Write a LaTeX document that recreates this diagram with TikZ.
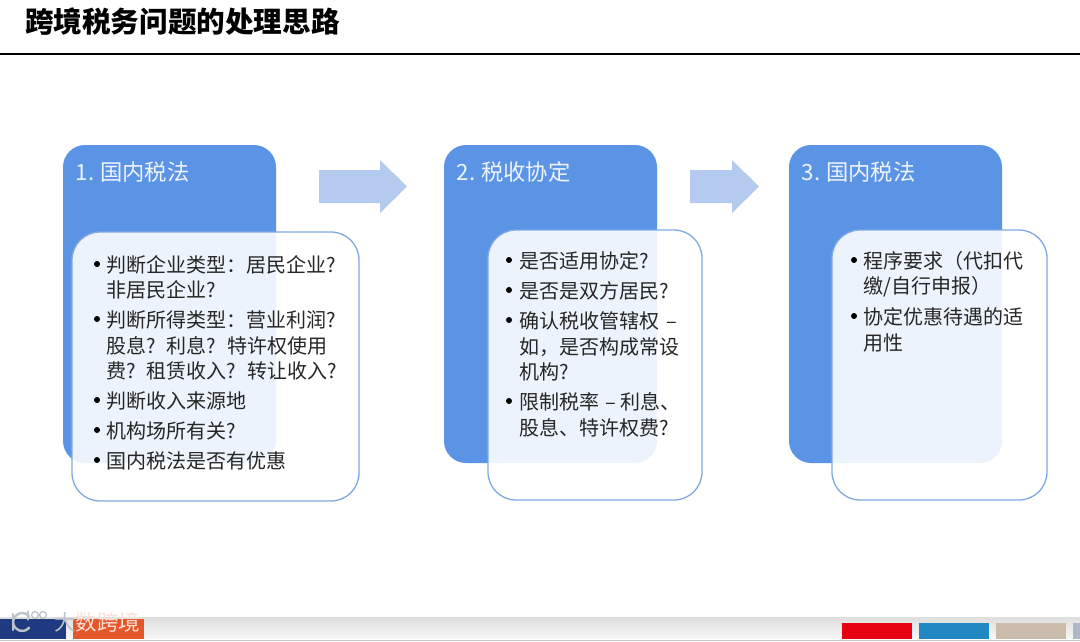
\documentclass[tikz,border=0pt]{standalone}
\usepackage{fontspec}
\setmainfont{Noto Sans CJK SC}
\definecolor{panelblue}{HTML}{5C94E5}
\definecolor{edgeblue}{HTML}{80A9E2}
\definecolor{arrowblue}{HTML}{B4CAEF}
\definecolor{bodyink}{HTML}{262626}
\definecolor{stripnavy}{HTML}{1F3A80}
\definecolor{striporange}{HTML}{E4572A}
\definecolor{stripred}{HTML}{E60012}
\definecolor{stripblue}{HTML}{2288C4}
\definecolor{striptan}{HTML}{CBBBAB}
\definecolor{stripgrey}{HTML}{AEB6C8}
\definecolor{markgrey}{HTML}{BEC3CB}
\tikzset{
  x=1pt,y=-1pt,
  backpanel/.style={fill=panelblue,rounded corners=22pt},
  frontpanel/.style={draw=edgeblue,line width=1.3pt,fill=white,fill opacity=.89,draw opacity=1,rounded corners=28pt},
  flowarrow/.style={fill=arrowblue},
  heading/.style={anchor=west,inner sep=0pt,text=white!90!panelblue,font=\fontsize{22.3}{24}\selectfont},
  body/.style={anchor=west,inner sep=0pt,text=bodyink,font=\fontsize{20}{24}\selectfont},
  dot/.style={circle,fill=black,inner sep=0pt,minimum size=6pt},
  strip/.style={inner sep=0pt,anchor=north west},
  logostroke/.style={draw=markgrey,line width=2.4pt,line cap=round},
}
\newcommand{\bandbox}[5]{\node[strip,fill=#5,minimum width=#3pt,minimum height=#4pt] at (#1,#2) {};}
\newcommand{\qgap}{\hspace{11pt}}
\begin{document}
\begin{tikzpicture}
\useasboundingbox (0,0) rectangle (1080,642);
\fill[white] (0,0) rectangle (1080,642);
% title
\node[anchor=west,inner sep=0pt,font=\fontsize{28.6}{32}\bfseries\selectfont,text=black] (title) at (25,22) {跨境税务问题的处理思路};
\coordinate (ruleL) at (0,54); \coordinate (ruleR) at (1080,54);
\draw[black,line width=1.3pt] (ruleL) -- (ruleR);
% back panels
\fill[backpanel] (63,145) rectangle (276,463);
\fill[backpanel] (444,145) rectangle (657,463);
\fill[backpanel] (789,145) rectangle (1002,463);
\node[heading] (h1) at (75.5,172) {1.\hspace{6pt}国内税法};
\node[heading] (h2) at (456.5,172) {2.\hspace{6pt}税收协定};
\node[heading] (h3) at (801.5,172) {3.\hspace{6pt}国内税法};
% front panels
\path[frontpanel] (72,232) rectangle (359,501);
\path[frontpanel] (488,230) rectangle (702,500);
\path[frontpanel] (832,230) rectangle (1047,500);
% arrows
\fill[flowarrow] (319,170) -- (380,170) -- (380,160) -- (407,186.5) -- (380,213) -- (380,203) -- (319,203) -- cycle;
\fill[flowarrow] (690,170) -- (732,170) -- (732,160) -- (759,186.5) -- (732,213) -- (732,203) -- (690,203) -- cycle;
% panel 1 text
\node[dot] (b11) at (97,264) {};
\node[body] (t11) at (106,265) {判断企业类型：居民企业?};
\node[body] (t12) at (106,290) {非居民企业?};
\node[dot] (b12) at (97,319) {};
\node[body] (t13) at (106,320) {判断所得类型：营业利润?};
\node[body] (t14) at (106,346) {股息?\qgap{}利息?\qgap{}特许权使用};
\node[body] (t15) at (106,371) {费?\qgap{}租赁收入?\qgap{}转让收入?};
\node[dot] (b13) at (97,400) {};
\node[body] (t16) at (106,401) {判断收入来源地};
\node[dot] (b14) at (97,430) {};
\node[body] (t17) at (106,431) {机构场所有关?};
\node[dot] (b15) at (97,460) {};
\node[body] (t18) at (106,461) {国内税法是否有优惠};
% panel 2 text
\node[dot] (b21) at (509,260) {};
\node[body] (t21) at (519,261) {是否适用协定?};
\node[dot] (b22) at (509,290) {};
\node[body] (t22) at (519,291) {是否是双方居民?};
\node[dot] (b23) at (509,320) {};
\node[body] (t23) at (519,321) {确认税收管辖权\hspace{7pt}–};
\node[body] (t24) at (519,347) {如，是否构成常设};
\node[body] (t25) at (519,372) {机构?};
\node[dot] (b24) at (509,401) {};
\node[body] (t26) at (519,402) {限制税率\hspace{6pt}–\hspace{5pt}利息、};
\node[body] (t27) at (519,428) {股息、特许权费?};
% panel 3 text
\node[dot] (b31) at (854,260) {};
\node[body] (t31) at (863,261) {程序要求（代扣代};
\node[body] (t32) at (863,287) {缴/自行申报）};
\node[dot] (b32) at (854,316) {};
\node[body] (t33) at (863,317) {协定优惠待遇的适};
\node[body] (t34) at (863,343) {用性};
% footer
\shade[top color=black!13,bottom color=black!3] (0,617) rectangle (1080,639);
\fill[white] (0,639) rectangle (1080,642);
\draw[black!22,line width=.6pt] (0,640) -- (1080,640);
\bandbox{0}{619}{66}{19.5}{stripnavy}
\bandbox{73}{619}{71}{19.5}{striporange}
\bandbox{842}{623}{69.5}{16}{stripred}
\bandbox{919}{623}{70}{16}{stripblue}
\bandbox{996}{623}{70}{16}{striptan}
\bandbox{1073}{623}{7}{16}{stripgrey}
% watermark
\draw[logostroke] (13,614) -- (13,630);
\draw[logostroke] (29,616.2) arc[start angle=-40,end angle=-320,radius=9];
\draw[logostroke,line width=1.3pt] (28,611) -- (28,620);
\draw[logostroke,line width=1.3pt] (35,615) circle[radius=3.4];
\draw[logostroke,line width=1.3pt] (43,615) circle[radius=3.4];
\node[anchor=west,inner sep=0pt,text=markgrey,font=\fontsize{21.5}{24}\selectfont] (mark) at (54,622) {大\textcolor{white!82!striporange}{数跨境}};
\end{tikzpicture}
\end{document}
